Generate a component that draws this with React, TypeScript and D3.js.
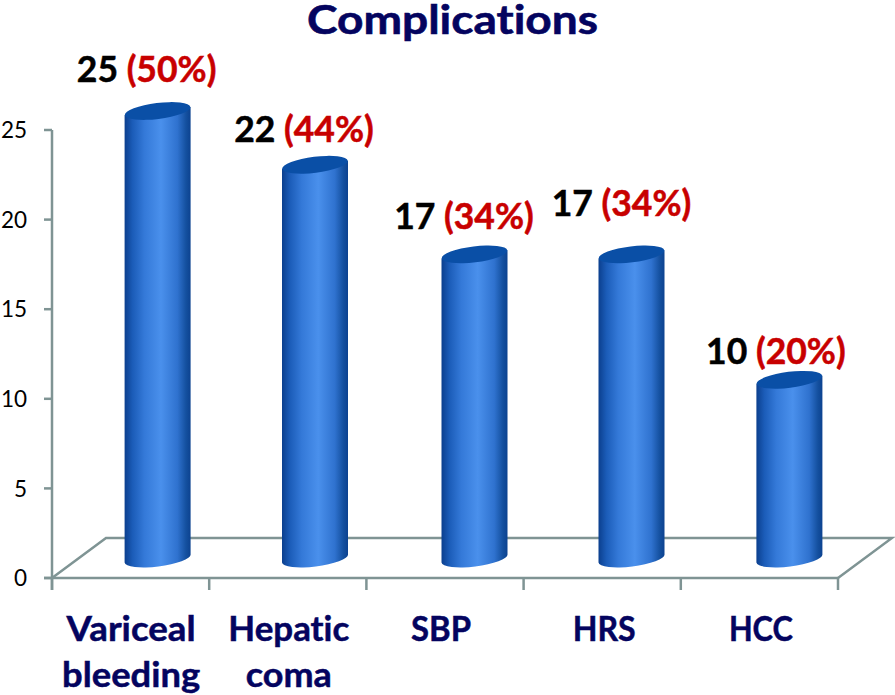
import React from "react";
import * as d3 from "d3";

const categories = [["Variceal", "bleeding"], ["Hepatic", "coma"], ["SBP"], ["HRS"], ["HCC"]];
const counts = [25, 22, 17, 17, 10];
const percents = ["(50%)", "(44%)", "(34%)", "(34%)", "(20%)"];
const yTicks = [0, 5, 10, 15, 20, 25];
const title = "Complications";

// hand placement relative to each category band / bar (px)
const barDx = [27, 27.2, 29.5, 29.3, 30];
const labelDx = [-11, -11, -10.5, -10, -13.5];
const labelDy = [-48, -42, -44, -57, -35];
const catDx = [0.5, 1, -4, 2, 1.5];
const catWidths = [[129, 138], [121, 86], [60], [63], [64]];

const FONT = "Lato, Carlito, sans-serif";
const AXIS = "#7f9494";
const NAVY = "#04045f";

export default function App() {
  const x = d3.scaleBand<number>().domain(d3.range(categories.length)).range([52, 838]);
  const y = d3.scaleLinear().domain([0, 25]).range([578, 130]);
  const rx = 33;
  const ry = 8;
  const baseLift = 19.5;
  const topLift = 19;
  const tilt = -7;
  const edges = d3.range(categories.length + 1).map((i) => 52 + i * x.step());

  return (
    <svg width={895} height={695} style={{ position: "absolute", left: 0, top: 0, background: "#fff", fontVariantLigatures: "none" }} fontFamily={FONT}>
      <defs>
        <linearGradient id="cyl" x1="0" x2="1" y1="0" y2="0">
          <stop offset="0" stopColor="#0b3f8e" />
          <stop offset="0.12" stopColor="#1b5cb8" />
          <stop offset="0.3" stopColor="#3479d8" />
          <stop offset="0.55" stopColor="#4a90ec" />
          <stop offset="0.8" stopColor="#2f72cf" />
          <stop offset="0.93" stopColor="#14509f" />
          <stop offset="1" stopColor="#0c4290" />
        </linearGradient>
      </defs>

      <text x={452.5} y={34} textAnchor="middle" fontSize={41} textLength={291} lengthAdjust="spacingAndGlyphs" fontWeight={700} fill={NAVY} stroke={NAVY} strokeWidth={0.6}>{title}</text>

      <path d={`M52,578L106,538H892L838,578`} fill="none" stroke={AXIS} strokeWidth={2.5} />
      <line x1={52} x2={52} y1={130} y2={590} stroke={AXIS} strokeWidth={2.5} />
      <line x1={44} x2={838} y1={y(0)} y2={y(0)} stroke={AXIS} strokeWidth={2.5} />
      {edges.map((e, i) => (
        <line key={i} x1={e} x2={e} y1={578} y2={590} stroke={AXIS} strokeWidth={2.5} />
      ))}
      {yTicks.map((t) => (
        <g key={t}>
          <line x1={44} x2={52} y1={y(t)} y2={y(t)} stroke={AXIS} strokeWidth={2.5} />
          <text x={27} y={y(t)} dy="0.36em" textAnchor="end" fontSize={22.5} fill="#000">{t}</text>
        </g>
      ))}

      {counts.map((v, i) => {
        const cx = x(i)! + x.bandwidth() / 2 + barDx[i];
        const top = y(v) - topLift;
        const bot = y(0) - baseLift;
        const dy = rx * Math.sin((tilt * Math.PI) / 180);
        const body = `M${cx - rx},${top - dy}L${cx + rx},${top + dy}L${cx + rx},${bot + dy}A${rx},${ry} ${tilt} 0 1 ${cx - rx},${bot - dy}Z`;
        return (
          <g key={i}>
            <path d={body} fill="url(#cyl)" />
            <ellipse cx={cx} cy={top} rx={rx} ry={ry} transform={`rotate(${tilt} ${cx} ${top})`} fill="#0a4fa6" />
            <text x={cx + labelDx[i]} y={y(v) + labelDy[i]} textAnchor="middle" fontSize={35.5} fontWeight={700} strokeWidth={0.5}>
              <tspan fill="#000" stroke="#000">{v} </tspan>
              <tspan fill="#c80000" stroke="#c80000">{percents[i]}</tspan>
            </text>
          </g>
        );
      })}

      {categories.map((lines, i) => {
        const cx = x(i)! + x.bandwidth() / 2 + catDx[i];
        return lines.map((l, j) => (
          <text key={`${i}-${j}`} x={cx} y={641 + j * 46} textAnchor="middle" fontSize={35} textLength={catWidths[i][j]} lengthAdjust="spacingAndGlyphs" fontWeight={700} fill={NAVY} stroke={NAVY} strokeWidth={0.5}>{l}</text>
        ));
      })}
    </svg>
  );
}
